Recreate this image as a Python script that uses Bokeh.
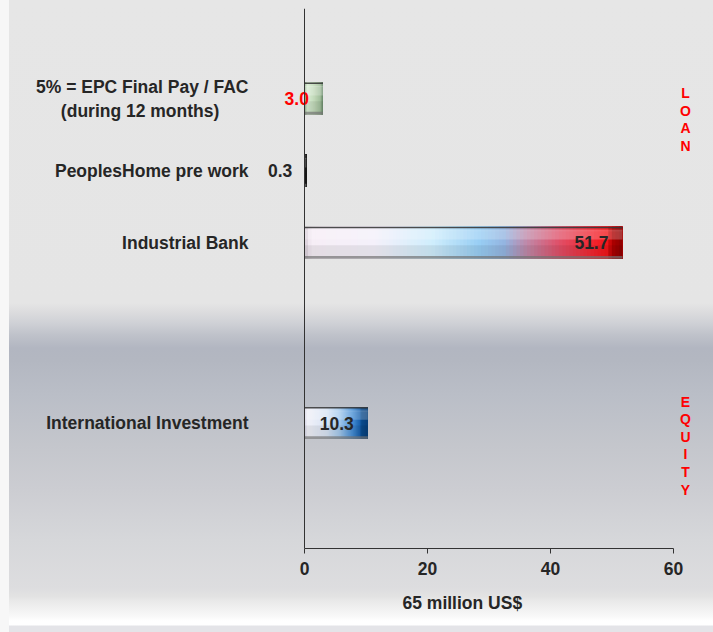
from bokeh.plotting import figure
from bokeh.models import ColumnDataSource, FactorRange, Range1d, FixedTicker, Label, Span, Title
from bokeh.core.properties import value
from bokeh.embed import file_html
from bokeh.resources import INLINE

# ---------------- data ----------------
categories = [
    "5% = EPC Final Pay / FAC\n(during 12 months)",
    "PeoplesHome pre work",
    "Industrial Bank",
    "International Investment",
]
amounts = [3.0, 0.3, 51.7, 10.3]
sections = ["LOAN", "LOAN", "LOAN", "EQUITY"]
x_ticks = [0, 20, 40, 60]
x_title = "65 million  US$"

# ---------------- styles ----------------
FONT = value("Liberation Sans")
TXT = "#262626"
label_colors = ["#ff0000", TXT, TXT, TXT]
gradients = [
    [(0.0, "#8eae8a"), (0.15, "#d8ecd2"), (0.5, "#c4dcbc"), (0.85, "#a4c09e"), (1.0, "#6a8a6a")],
    [(0.0, "#2c2c2c"), (1.0, "#1c1c1c")],
    [(0.0, "#d6ccd6"), (0.02, "#f6eef6"), (0.22, "#f4f0fa"), (0.40, "#d0eefc"), (0.55, "#98cef4"),
     (0.63, "#94b4e0"), (0.70, "#c088a8"), (0.80, "#e05068"), (0.92, "#f42028"), (0.955, "#f01418"),
     (0.965, "#b00000"), (1.0, "#8c0000")],
    [(0.0, "#d4d4e4"), (0.05, "#f0f0f8"), (0.35, "#d8e4f4"), (0.55, "#a4c9ec"), (0.75, "#4a90d6"),
     (0.87, "#1c64b0"), (0.90, "#0a4a8c"), (1.0, "#083e78")],
]
NBSP = "\u00a0"


def _rgb(h):
    return tuple(int(h[i:i + 2], 16) for i in (1, 3, 5))


def _interp(stops, t):
    for (t0, c0), (t1, c1) in zip(stops[:-1], stops[1:]):
        if t <= t1:
            f = 0 if t1 == t0 else (t - t0) / (t1 - t0)
            a, b = _rgb(c0), _rgb(c1)
            return "#%02x%02x%02x" % tuple(round(a[k] + (b[k] - a[k]) * f) for k in range(3))
    return stops[-1][1]


def _centered(label):
    # visually centre the shorter lines of a multi-line, right-aligned axis label
    lines = label.split("\n")
    if len(lines) == 1:
        return label
    w = max(len(s) for s in lines)
    return "\n".join(s + NBSP * int(round((w - len(s)) * 1.0)) for s in lines)


# ---------------- categorical layout ----------------
sec_key = {"EQUITY": " ", "LOAN": "  "}
SUB_PAD, SUB_BAR = " ", "  "
bar_factors = [(sec_key[s], SUB_BAR, _centered(c)) for s, c in zip(sections, categories)]
eq = [f for f, s in zip(bar_factors, sections) if s == "EQUITY"][::-1]
ln = [f for f, s in zip(bar_factors, sections) if s == "LOAN"][::-1]
factors = [(sec_key["EQUITY"], SUB_PAD, " ")] + eq + ln + [(sec_key["LOAN"], SUB_BAR, " ")]

y_range = FactorRange(factors=factors, group_padding=4.0, subgroup_padding=1.98,
                      factor_padding=1.0, range_padding=0, range_padding_units="absolute")

# frame spans 254..713 px; value 0 sits at 304 px and 60 at 673 px
PX = 369 / 60.0
x_range = Range1d(-50 / PX, -50 / PX + 459 / PX)

p = figure(width=713, height=632, y_range=y_range, x_range=x_range,
           output_backend="svg", toolbar_location=None,
           min_border_left=254, min_border_right=0, min_border_top=8, min_border_bottom=84)
p.title.visible = False
p.background_fill_color = None
p.border_fill_color = None
p.outline_line_color = None
p.grid.visible = False

bg = ("linear-gradient(to right, #f7f7f7 0px, #f7f7f7 9px, rgba(247,247,247,0) 9px), "
      "linear-gradient(to bottom, #e6e6e6 0px, #e5e5e5 303px, #dcdcde 312px, #cfd1d6 323px, "
      "#bfc2ca 335px, #b2b6c1 348px, #b3b7c1 360px, #babec7 395px, #c4c6cc 445px, #cccdd2 490px, "
      "#d6d7da 540px, #dddddf 588px, #e3e3e3 597px, #e9e9e9 601px, #efefef 607px, #f4f4f4 612px, "
      "#f9f9f9 617px, #ffffff 621px, #ffffff 625px, #e4e4e8 626px, #e4e4e8 632px)")
p.styles = {"background": bg}

# vertical axis line at value 0
p.add_layout(Span(location=0, dimension="height", line_color="#333333", line_width=1))

H = 0.89
N = 90
g = dict(y=[], left=[], right=[], color=[])
for f, v, st in zip(bar_factors, amounts, gradients):
    for k in range(N):
        g["y"].append(f)
        g["left"].append(v * k / N)
        g["right"].append(v)
        g["color"].append(_interp(st, (k + 0.5) / N))
p.hbar(y="y", left="left", right="right", height=H, fill_color="color", line_color=None,
       source=ColumnDataSource(g))


def overlay(off, h, color, alpha):
    src = ColumnDataSource(dict(y=[f + (off,) for f in bar_factors], right=amounts))
    p.hbar(y="y", left=0, right="right", height=h, fill_color=color, fill_alpha=alpha,
           line_color=None, source=src)


overlay(0.22, 0.26, "#ffffff", 0.22)
overlay(0.36, 0.08, "#ffffff", 0.12)
overlay(-0.22, 0.30, "#000000", 0.07)
overlay(-0.405, 0.08, "#6e6e6e", 0.7)
overlay(0.425, 0.045, "#3a3a3a", 0.9)

lab = ColumnDataSource(dict(y=bar_factors, x=amounts, text=["%.1f" % v for v in amounts],
                            color=label_colors))
p.text(x="x", y="y", text="text", source=lab, x_offset=-14, text_align="right",
       text_baseline="middle", text_color="color", text_font=FONT, text_font_style="bold",
       text_font_size="17.5px")

xa = p.xaxis[0]
xa.ticker = FixedTicker(ticks=x_ticks)
xa.bounds = (x_ticks[0], x_ticks[-1])
xa.minor_tick_line_color = None
xa.major_tick_out = 5
xa.major_tick_in = 0
xa.axis_line_color = "#333333"
xa.major_tick_line_color = "#333333"
xa.major_label_standoff = 8
xa.major_label_text_font = "Liberation Sans"
xa.major_label_text_font_style = "bold"
xa.major_label_text_font_size = "17.5px"
xa.major_label_text_color = TXT

ya = p.yaxis[0]
ya.axis_line_color = None
ya.major_tick_line_color = None
ya.minor_tick_line_color = None
ya.major_tick_out = 0
ya.major_tick_in = 0
ya.major_label_standoff = 6
ya.major_label_text_font = "Liberation Sans"
ya.major_label_text_font_style = "bold"
ya.major_label_text_font_size = "17.5px"
ya.major_label_text_color = TXT
ya.group_text_font_size = "1px"
ya.subgroup_text_font_size = "1px"
ya.group_text_alpha = 0
ya.subgroup_text_alpha = 0
ya.separator_line_color = None

p.add_layout(Title(text=x_title, align="left", offset=148, standoff=27,
                   text_font="Liberation Sans", text_font_style="bold",
                   text_font_size="17.5px", text_color=TXT), "below")

for sec, yy in (("LOAN", 429), ("EQUITY", 103)):
    p.add_layout(Label(x=(685 - 304) / PX, y=yy, x_units="data", y_units="screen",
                       text="\n".join(sec), text_align="center", text_baseline="middle",
                       text_font="Liberation Sans", text_font_style="bold",
                       text_font_size="14px", text_color="#ff0000", text_line_height=1.1))

open("out.html", "w").write(file_html(p, INLINE))
